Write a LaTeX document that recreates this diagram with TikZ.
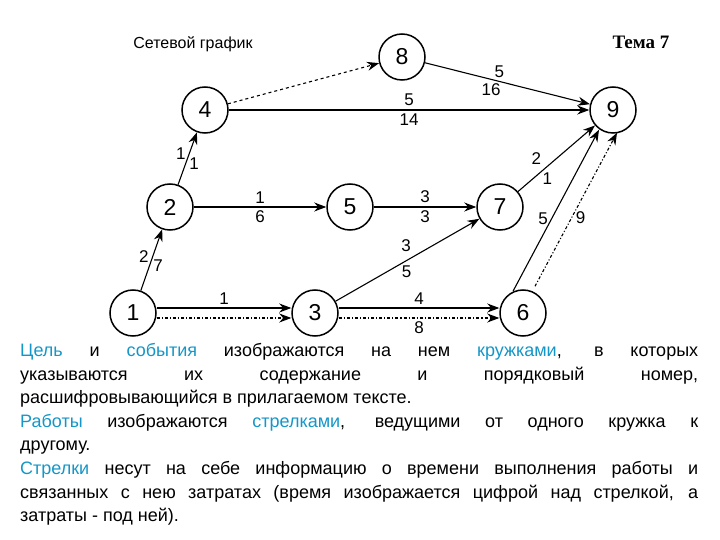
\documentclass[tikz,border=0pt]{standalone}
\usepackage{fontspec}
\setmainfont{Liberation Sans}
\newfontfamily\serifb{Liberation Serif}
\usetikzlibrary{arrows.meta}
\definecolor{cyanblue}{RGB}{20,150,200}
\begin{document}
\begin{tikzpicture}[x=1pt,y=-1pt,
  ev/.style={circle,draw,line width=1.5pt,minimum size=46pt,inner sep=0pt,font=\fontsize{23}{23}\selectfont},
  ar/.style={-{Stealth[length=12pt,width=9pt]},line width=1.1pt},
  dd/.style={ar,dash dot},
  ds/.style={ar,dashed},
  lb/.style={font=\fontsize{17}{17}\selectfont}]
\useasboundingbox (0,0) rectangle (720,540);
\node[font=\fontsize{16}{16}\selectfont] (t1) at (193,44) {Сетевой график};
\node[font=\fontsize{19}{19}\serifb\bfseries] (t2) at (641,42) {Тема 7};
\node[ev] (n1) at (133,313) {1};
\node[ev] (n3) at (315,313) {3};
\node[ev] (n6) at (523,313) {6};
\node[ev] (n2) at (170,207) {2};
\node[ev] (n5) at (350,207) {5};
\node[ev] (n7) at (500,207) {7};
\node[ev] (n4) at (205,110) {4};
\node[ev] (n8) at (402,57) {8};
\node[ev] (n9) at (613,110) {9};
\draw[ar] (n1) -- node[lb,left,pos=0.55]{2} node[lb,right,pos=0.4]{7} (n2);
\draw[ar] (n2) -- node[lb,left,pos=0.6]{1} node[lb,right,pos=0.4]{1} (n4);
\draw[ds] (n4) -- (n8);
\draw[ar] (n8) -- node[lb,above,pos=0.45]{5} node[lb,below,pos=0.4]{16} (n9);
\draw[ar] (n4) -- node[lb,above]{5} node[lb,below]{14} (n9);
\draw[ar] (n2) -- node[lb,above]{1} node[lb,below]{6} (n5);
\draw[ar] (n5) -- node[lb,above]{3} node[lb,below]{3} (n7);
\draw[ar] (n7) -- node[lb,above left,pos=0.35]{2} node[lb,below right,pos=0.3,inner sep=1pt]{1} (n9);
\draw[ar] (n3) -- node[lb,above left,pos=0.55]{3} node[lb,below right,pos=0.45,inner sep=1pt]{5} (n7);
\draw[ar] ([yshift=5]n1.east) -- node[lb,above]{1} ([yshift=5]n3.west);
\draw[dd] ([yshift=-5]n1.east) -- ([yshift=-5]n3.west);
\draw[ar] ([yshift=5]n3.east) -- node[lb,above]{4} ([yshift=5]n6.west);
\draw[dd] ([yshift=-5]n3.east) -- node[lb,below]{8} ([yshift=-5]n6.west);
\coordinate (a1) at ([xshift=-10,yshift=-2]n6.north);
\coordinate (b1) at ([xshift=-14,yshift=4]n9.south);
\draw[ar] (a1) -- node[lb,left,pos=0.45]{5} (b1);
\coordinate (a2) at ([xshift=12,yshift=3]n6.north);
\coordinate (b2) at ([xshift=4,yshift=1]n9.south);
\draw[dd] (a2) -- node[lb,right,pos=0.45]{9} (b2);
\node[text width=678pt,align=justify,font=\fontsize{18}{23.6}\selectfont,anchor=north west,inner sep=0pt] (txt) at (20,343)
{\textcolor{cyanblue}{Цель} и \textcolor{cyanblue}{события} изображаются на нем \textcolor{cyanblue}{кружками}, в которых\linebreak указываются их содержание и порядковый номер,\linebreak расшифровывающийся в прилагаемом тексте.\\
\textcolor{cyanblue}{Работы} изображаются \textcolor{cyanblue}{стрелками}, ведущими от одного кружка к\linebreak другому.\\
\textcolor{cyanblue}{Стрелки} несут на себе информацию о времени выполнения работы и\linebreak связанных с нею затратах (время изображается цифрой над стрелкой, а\linebreak затраты - под ней).};
\end{tikzpicture}
\end{document}
